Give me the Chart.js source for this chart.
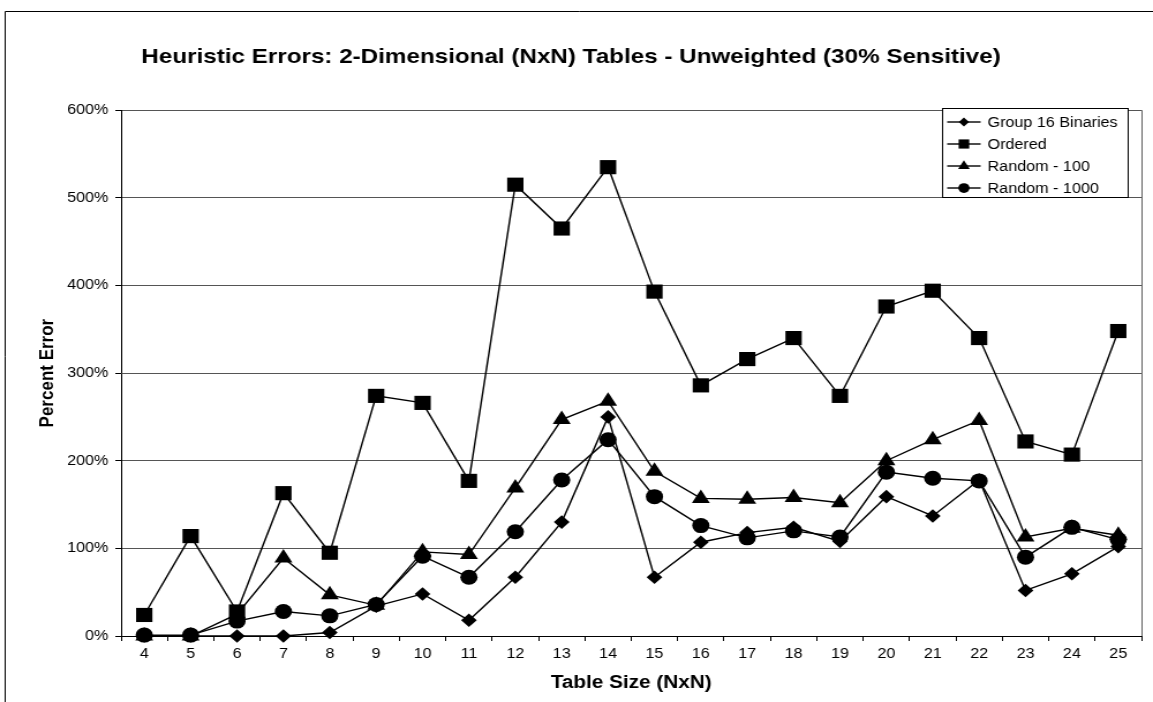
<!DOCTYPE html>
<html>
<head>
<meta charset="utf-8">
<title>Heuristic Errors</title>
<script src="https://cdn.jsdelivr.net/npm/chart.js@4/dist/chart.umd.min.js"></script>
<style>
    html, body { margin: 0; padding: 0; background: #fff; }
</style>
</head>
<body>
<!-- drawn at 1000px wide and widened to the page width, like the original export -->
<canvas id="errorchart" width="1000" height="702" style="width:1153px;height:702px;"></canvas>
<script>
// table sizes on the x axis
const tableSizes = ["4","5","6","7","8","9","10","11","12","13","14","15","16","17","18","19","20","21","22","23","24","25"];

// percent error per table size
const group16Binaries = [0, 0, 0, 0, 4, 34, 48, 18, 67, 130, 250, 67, 107, 118, 124, 108, 159, 137, 178, 52, 71, 102];
const ordered         = [24, 114, 28, 163, 95, 274, 266, 177, 515, 465, 535, 393, 286, 316, 340, 274, 376, 394, 340, 222, 207, 348];
const random100       = [0, 0, 25, 89, 47, 35, 96, 93, 169, 247, 268, 188, 157, 156, 158, 152, 200, 224, 246, 113, 123, 115];
const random1000      = [1, 1, 17, 28, 23, 36, 91, 67, 119, 178, 224, 159, 126, 112, 120, 113, 187, 180, 177, 90, 124, 110];

const yTicks = [0, 100, 200, 300, 400, 500, 600];

Chart.defaults.font.family = 'Arial, "Liberation Sans", sans-serif';
Chart.defaults.color = "#000";

const makeSeries = (label, data, pointStyle, radius) => ({
    label: label,
    data: data,
    pointStyle: pointStyle,
    pointRadius: radius,
    pointHoverRadius: radius,
    pointBackgroundColor: "#000",
    pointBorderColor: "#000",
    pointBorderWidth: 0,
    borderColor: "#000",
    backgroundColor: "#000",
    borderWidth: 1.4,
    tension: 0,
    clip: false
});

// outer frame, right edge of the plot and the boxed legend
const chartFrame = {
    id: "chartFrame",
    beforeDraw(chart) {
        const {ctx, width, height} = chart;
        ctx.save();
        ctx.fillStyle = "#fff";
        ctx.fillRect(0, 0, width, height);
        ctx.strokeStyle = "#000";
        ctx.lineWidth = 1;
        ctx.beginPath();
        ctx.moveTo(4.5, height);
        ctx.lineTo(4.5, 11.5);
        ctx.lineTo(width, 11.5);
        ctx.stroke();
        ctx.restore();
    },
    beforeDatasetsDraw(chart) {
        const {ctx, chartArea} = chart;
        ctx.save();
        ctx.strokeStyle = "#606060";
        ctx.lineWidth = 1;
        ctx.beginPath();
        ctx.moveTo(Math.round(chartArea.right) + 0.5, chartArea.top);
        ctx.lineTo(Math.round(chartArea.right) + 0.5, chartArea.bottom);
        ctx.stroke();
        ctx.restore();
    },
    afterDraw(chart) {
        const {ctx, chartArea} = chart;
        const boxRight = Math.round(chartArea.right - 12) + 0.5;
        const boxLeft = boxRight - 161;
        const boxTop = Math.round(chartArea.top - 2) + 0.5;
        const rowGap = 22;
        const sets = chart.data.datasets;
        ctx.save();
        ctx.fillStyle = "#fff";
        ctx.strokeStyle = "#000";
        ctx.lineWidth = 1;
        ctx.fillRect(boxLeft, boxTop, boxRight - boxLeft, rowGap * sets.length + 1);
        ctx.strokeRect(boxLeft, boxTop, boxRight - boxLeft, rowGap * sets.length + 1);
        ctx.font = "14px Arial, 'Liberation Sans', sans-serif";
        ctx.textBaseline = "middle";
        ctx.textAlign = "left";
        sets.forEach((ds, i) => {
            const y = boxTop + 13.5 + i * rowGap;
            ctx.strokeStyle = "#000";
            ctx.lineWidth = ds.borderWidth;
            ctx.beginPath();
            ctx.moveTo(boxLeft + 4, y);
            ctx.lineTo(boxLeft + 33, y);
            ctx.stroke();
            ctx.fillStyle = "#000";
            Chart.helpers.drawPoint(ctx, {
                pointStyle: ds.pointStyle,
                radius: ds.pointRadius * 0.65,
                rotation: 0,
                borderWidth: 0
            }, boxLeft + 18.5, y);
            ctx.fillText(ds.label, boxLeft + 39, y + 1);
        });
        ctx.restore();
    }
};

const ctx = document.getElementById("errorchart");
new Chart(ctx, {
    type: "line",
    data: {
        labels: tableSizes,
        datasets: [
            makeSeries("Group 16 Binaries", group16Binaries, "rectRot", 6.8),
            makeSeries("Ordered", ordered, "rect", 10),
            makeSeries("Random - 100", random100, "triangle", 9),
            makeSeries("Random - 1000", random1000, "circle", 7.5)
        ]
    },
    options: {
        responsive: false,
        animation: false,
        layout: {
            padding: {left: 0, right: 9.5, top: 0, bottom: 0}
        },
        scales: {
            x: {
                offset: true,
                grid: {
                    drawOnChartArea: false,
                    drawTicks: true,
                    tickLength: 5,
                    offset: true,
                    tickColor: "#000"
                },
                border: {color: "#000", width: 1},
                ticks: {
                    color: "#000",
                    font: {size: 14},
                    padding: 5,
                    maxRotation: 0,
                    autoSkip: false
                },
                title: {
                    display: true,
                    text: "Table Size (NxN)",
                    color: "#000",
                    font: {size: 18, weight: "bold"},
                    padding: {top: 0, bottom: 8}
                },
                afterFit: (scale) => { scale.height = 66; }
            },
            y: {
                min: 0,
                max: 600,
                afterBuildTicks: (scale) => {
                    scale.ticks = yTicks.map(v => ({value: v}));
                },
                ticks: {
                    color: "#000",
                    font: {size: 14},
                    padding: 6,
                    callback: (value) => value + "%"
                },
                grid: {
                    color: "#555",
                    tickColor: "#000",
                    tickLength: 5
                },
                border: {color: "#000", width: 1},
                title: {
                    display: true,
                    text: "Percent Error",
                    color: "#000",
                    font: {size: 17, weight: "bold"},
                    padding: {top: 31, bottom: 0}
                },
                afterFit: (scale) => { scale.width = 105; }
            }
        },
        plugins: {
            legend: {display: false},
            tooltip: {enabled: false},
            title: {
                display: true,
                text: "Heuristic Errors: 2-Dimensional (NxN) Tables - Unweighted (30% Sensitive)",
                color: "#000",
                font: {size: 21, weight: "bold"},
                padding: {top: 45, bottom: 40}
            }
        }
    },
    plugins: [chartFrame]
});
</script>
</body>
</html>
